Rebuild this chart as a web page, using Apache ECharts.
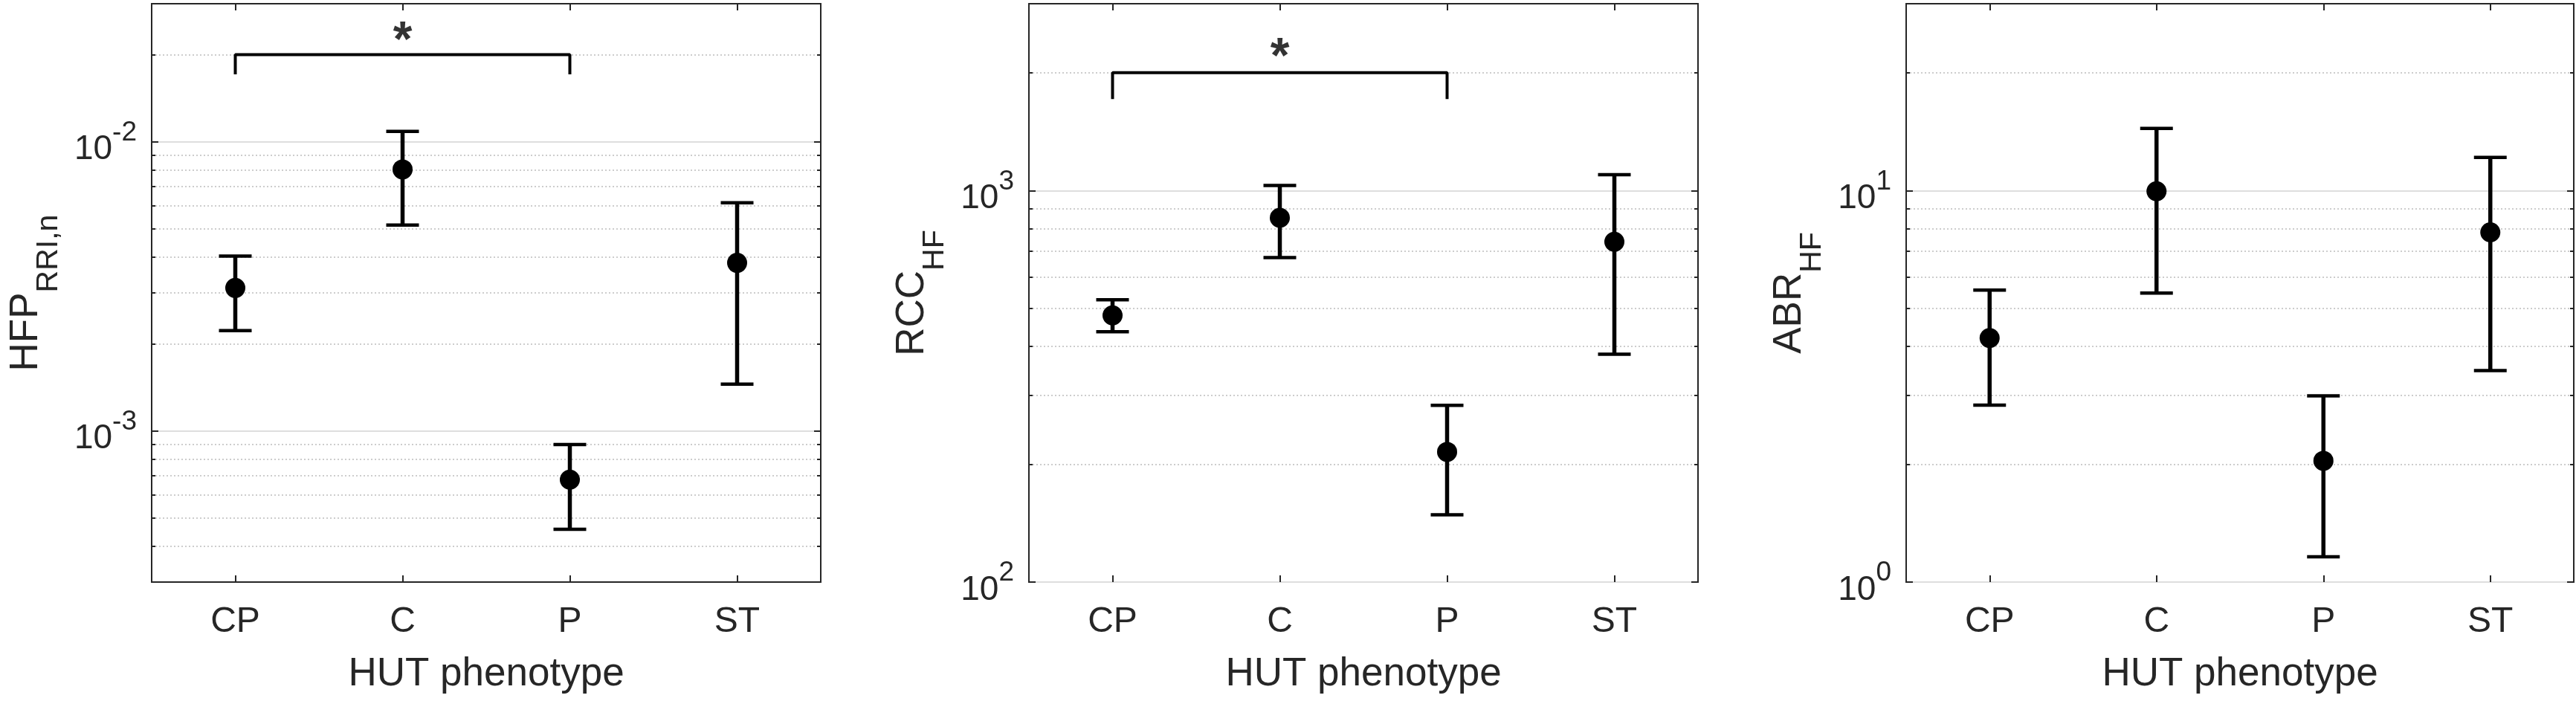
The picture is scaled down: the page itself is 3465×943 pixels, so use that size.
<!DOCTYPE html>
<html>
<head>
<meta charset="utf-8">
<script src="https://cdn.jsdelivr.net/npm/echarts@6/dist/echarts.min.js"></script>
<style>
  html, body { margin: 0; padding: 0; background: #fff; }
  #chart { width: 3465px; height: 943px; }
</style>
</head>
<body>
<div id="chart"></div>
<script>
// categories on the x axis of every panel
const categories = ['CP', 'C', 'P', 'ST'];

// HFP RRI,n (panel 1)
const hfpMean = [3.12e-3, 8.02e-3, 6.78e-4, 3.81e-3];
const hfpLow = [2.22e-3, 5.15e-3, 4.57e-4, 1.45e-3];
const hfpHigh = [4.02e-3, 1.085e-2, 8.97e-4, 6.15e-3];

// RCC HF (panel 2)
const rccMean = [480, 852, 215, 740];
const rccLow = [436, 674, 148.5, 382];
const rccHigh = [526, 1030, 282.6, 1097];

// ABR HF (panel 3)
const abrMean = [4.20, 9.96, 2.04, 7.82];
const abrLow = [2.83, 5.47, 1.16, 3.47];
const abrHigh = [5.57, 14.41, 2.99, 12.15];

// axis ranges and ticks
const hfpRange = [3e-4, 3e-2];
const rccRange = [100, 3000];
const abrRange = [1, 30];
const hfpMajor = [1e-3, 1e-2];
const hfpMinor = [4e-4, 5e-4, 6e-4, 7e-4, 8e-4, 9e-4, 2e-3, 3e-3, 4e-3, 5e-3, 6e-3, 7e-3, 8e-3, 9e-3, 2e-2];
const rccMajor = [100, 1000];
const rccMinor = [200, 300, 400, 500, 600, 700, 800, 900, 2000];
const abrMajor = [1, 10];
const abrMinor = [2, 3, 4, 5, 6, 7, 8, 9, 20];

// significance brackets: [from category, to category, leg bottom, top, star]
const hfpBracket = [0, 2, 0.0171, 0.02, 0.02205];
const rccBracket = [0, 2, 1712, 2000, 2170];

const FONT = '"Liberation Sans", Arial, Helvetica, sans-serif';
const AXIS_COLOR = '#262626';

const panels = [
    { left: 204, width: 900, name: ['HFP', 'RRI,n'], nameGap: 118, range: hfpRange, major: hfpMajor, minor: hfpMinor,
      mean: hfpMean, low: hfpLow, high: hfpHigh, bracket: hfpBracket },
    { left: 1384, width: 900, name: ['RCC', 'HF'], nameGap: 106, range: rccRange, major: rccMajor, minor: rccMinor,
      mean: rccMean, low: rccLow, high: rccHigh, bracket: rccBracket },
    { left: 2564, width: 898, name: ['ABR', 'HF'], nameGap: 106, range: abrRange, major: abrMajor, minor: abrMinor,
      mean: abrMean, low: abrLow, high: abrHigh, bracket: null }
];

const renderErrorBar = function (params, api) {
    const x = api.value(0);
    const lo = api.coord([x, api.value(1)]);
    const hi = api.coord([x, api.value(2)]);
    const half = 22;
    const stem = { stroke: '#000', lineWidth: 5.5 };
    const cap = { stroke: '#000', lineWidth: 4.5 };
    return {
        type: 'group',
        children: [
            { type: 'line', shape: { x1: lo[0], y1: lo[1], x2: hi[0], y2: hi[1] }, style: stem },
            { type: 'line', shape: { x1: lo[0] - half, y1: lo[1], x2: lo[0] + half, y2: lo[1] }, style: cap },
            { type: 'line', shape: { x1: hi[0] - half, y1: hi[1], x2: hi[0] + half, y2: hi[1] }, style: cap }
        ]
    };
};

const powerLabel = function (value) {
    const exp = Math.round(Math.log10(value));
    return '{b|10}{s|' + exp + '}';
};

const grid = [];
const xAxis = [];
const yAxis = [];
const series = [];

panels.forEach(function (p, g) {
    grid.push({
        left: p.left, top: 5, width: p.width, height: 778,
        show: true, borderColor: AXIS_COLOR, borderWidth: 2, backgroundColor: '#fff'
    });

    const xBase = {
        type: 'category',
        gridIndex: g,
        data: categories,
        axisLine: { show: false },
        axisTick: { show: true, inside: true, length: 9, alignWithLabel: true, lineStyle: { color: AXIS_COLOR, width: 2 } },
        splitLine: { show: false }
    };
    xAxis.push(Object.assign({}, xBase, {
        position: 'bottom',
        axisLabel: { color: AXIS_COLOR, fontSize: 48, fontFamily: FONT, margin: 30 },
        name: 'HUT phenotype',
        nameLocation: 'middle',
        nameGap: 98,
        nameTextStyle: { color: AXIS_COLOR, fontSize: 53, fontFamily: FONT }
    }));
    xAxis.push(Object.assign({}, xBase, { position: 'top', axisLabel: { show: false } }));

    const yBase = {
        type: 'log',
        logBase: 10,
        gridIndex: g,
        min: p.range[0],
        max: p.range[1],
        axisLine: { show: false }
    };
    const tickStyle = { color: AXIS_COLOR, width: 2 };
    // left, major: labels and solid grid lines
    yAxis.push(Object.assign({}, yBase, {
        position: 'left',
        axisTick: { show: true, inside: true, length: 9, customValues: p.major, lineStyle: tickStyle },
        axisLabel: {
            customValues: p.major,
            formatter: powerLabel,
            margin: 20,
            color: AXIS_COLOR,
            fontFamily: FONT,
            rich: {
                b: { fontSize: 46, fontFamily: FONT, color: AXIS_COLOR, padding: [22, 0, 0, 0] },
                s: { fontSize: 37, fontFamily: FONT, color: AXIS_COLOR, padding: [0, 0, 24, 0] }
            }
        },
        splitLine: { show: true, lineStyle: { color: '#dedede', width: 2, type: 'solid' } },
        name: '{m|' + p.name[0] + '}{u|' + p.name[1] + '}',
        nameLocation: 'middle',
        nameGap: p.nameGap,
        nameTextStyle: {
            fontFamily: FONT,
            color: AXIS_COLOR,
            rich: {
                m: { fontSize: 53, fontFamily: FONT, color: AXIS_COLOR },
                u: { fontSize: 41, fontFamily: FONT, color: AXIS_COLOR, padding: [60, 0, 0, 0] }
            }
        }
    }));
    // left, minor: dotted grid lines
    yAxis.push(Object.assign({}, yBase, {
        position: 'left',
        axisTick: { show: true, inside: true, length: 5, customValues: p.minor, lineStyle: tickStyle },
        axisLabel: { show: false, customValues: p.minor },
        splitLine: { show: true, lineStyle: { color: '#bdbdbd', width: 1.5, type: [2, 3] } }
    }));
    // right mirrored ticks
    yAxis.push(Object.assign({}, yBase, {
        position: 'right',
        axisTick: { show: true, inside: true, length: 9, customValues: p.major, lineStyle: tickStyle },
        axisLabel: { show: false, customValues: p.major },
        splitLine: { show: false }
    }));
    yAxis.push(Object.assign({}, yBase, {
        position: 'right',
        axisTick: { show: true, inside: true, length: 5, customValues: p.minor, lineStyle: tickStyle },
        axisLabel: { show: false, customValues: p.minor },
        splitLine: { show: false }
    }));

    const xi = g * 2;
    const yi = g * 4;
    series.push({
        type: 'custom',
        xAxisIndex: xi,
        yAxisIndex: yi,
        renderItem: renderErrorBar,
        encode: { x: 0, y: [1, 2] },
        data: categories.map(function (c, i) { return [i, p.low[i], p.high[i]]; }),
        z: 3
    });
    series.push({
        type: 'scatter',
        xAxisIndex: xi,
        yAxisIndex: yi,
        symbol: 'circle',
        symbolSize: 27,
        itemStyle: { color: '#000', opacity: 1 },
        data: categories.map(function (c, i) { return [i, p.mean[i]]; }),
        z: 4
    });
    if (p.bracket) {
        const b = p.bracket;
        series.push({
            type: 'line',
            xAxisIndex: xi,
            yAxisIndex: yi,
            symbol: 'none',
            clip: false,
            lineStyle: { color: '#000', width: 4 },
            data: [[b[0], b[2]], [b[0], b[3]], [b[1], b[3]], [b[1], b[2]]],
            z: 3
        });
        series.push({
            type: 'scatter',
            xAxisIndex: xi,
            yAxisIndex: yi,
            symbolSize: 1,
            itemStyle: { color: 'rgba(0,0,0,0)' },
            label: {
                show: true, position: 'inside', formatter: '*',
                fontSize: 66, fontWeight: 'bold', fontFamily: FONT, color: '#000'
            },
            data: [[(b[0] + b[1]) / 2, b[4]]],
            z: 4
        });
    }
});

const chart = echarts.init(document.getElementById('chart'), null, { renderer: 'canvas' });
chart.setOption({
    animation: false,
    backgroundColor: '#fff',
    grid: grid,
    xAxis: xAxis,
    yAxis: yAxis,
    series: series
});
window.onresize = function () {
    chart.resize();
};
</script>
</body>
</html>
